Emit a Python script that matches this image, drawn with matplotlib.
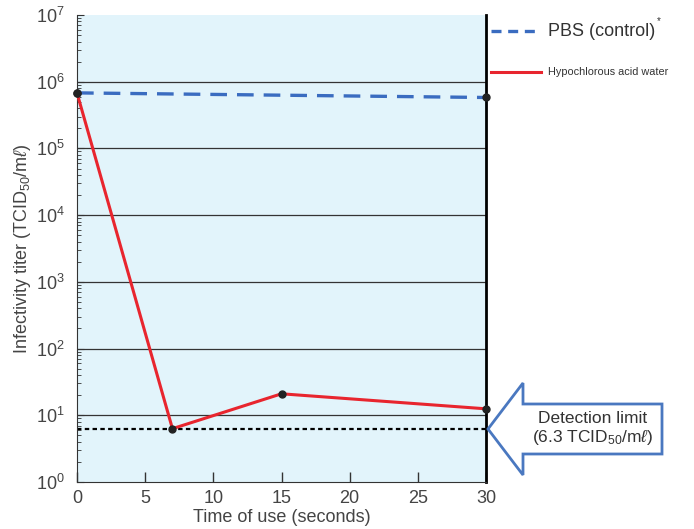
import numpy as np
import matplotlib.pyplot as plt
from matplotlib.patches import Polygon
from matplotlib.ticker import LogLocator, NullFormatter

plt.rcParams['font.family'] = ['Liberation Sans', 'DejaVu Sans']
plt.rcParams['mathtext.fontset'] = 'custom'
plt.rcParams['mathtext.rm'] = 'Liberation Sans'
plt.rcParams['mathtext.it'] = 'Liberation Sans:italic'

# data
pbs_time = [0, 30]
pbs_titer = [6.8e5, 5.8e5]
hoc_time = [0, 7, 15, 30]
hoc_titer = [6.8e5, 6.3, 21, 12.5]
detect_limit = 6.3

W, H = 694, 529
fig = plt.figure(figsize=(W / 100, H / 100), dpi=100)
ax = fig.add_axes([77 / W, 1 - 482 / H, (486 - 77) / W, (482 - 15) / H])
ax.set_facecolor('#e2f4fb')

ax.set_yscale('log')
ax.set_ylim(1, 1e7)
ax.set_xlim(0, 30)
for k in range(1, 7):
    ax.axhline(10 ** k, color='#333333', lw=0.9, zorder=1)

ax.axhline(detect_limit, color='black', ls=(0, (2, 1.5)), lw=1.6, zorder=2)
ax.plot(pbs_time, pbs_titer, color='#3a6cc0', ls=(0, (5, 3)), lw=2.4, zorder=3)
ax.plot(hoc_time, hoc_titer, color='#e8252e', lw=2.2, zorder=4)
ax.plot(pbs_time, pbs_titer, 'o', color='#222222', ms=5, zorder=5, clip_on=False)
ax.plot(hoc_time, hoc_titer, 'o', color='#222222', ms=5, zorder=5, clip_on=False)

ax.set_xticks([0, 5, 10, 15, 20, 25, 30])
ax.set_yticks([10 ** k for k in range(8)])
ax.set_yticklabels([r'$\mathregular{10^{%d}}$' % k for k in range(8)])
ax.yaxis.set_minor_locator(LogLocator(base=10, subs=np.arange(2, 10), numticks=20))
ax.yaxis.set_minor_formatter(NullFormatter())
ax.tick_params(axis='x', direction='in', length=7, width=1, labelsize=13, colors='#333333', pad=6)
ax.tick_params(axis='y', which='major', direction='in', length=5, labelsize=13, colors='#333333', pad=9)
ax.tick_params(axis='y', which='minor', direction='in', length=3, colors='#333333')
ax.tick_params(axis='y', which='both', right=False)
for lbl in ax.get_xticklabels() + ax.get_yticklabels():
    lbl.set_color('#444444')
ax.spines['top'].set_visible(False)
ax.spines['left'].set_color('#333333')
ax.spines['bottom'].set_color('#333333')
ax.spines['right'].set_linewidth(2)
ax.spines['right'].set_color('black')

ax.set_xlabel('Time of use (seconds)', fontsize=13, color='#444444', labelpad=1)
ax.set_ylabel(r'Infectivity titer (TCID$_{\mathregular{50}}$/m$\ell$)', fontsize=13, color='#444444', labelpad=2)

# legend outside on the right
fig.add_artist(plt.Line2D([491 / W, 541 / W], [1 - 31 / H] * 2, color='#3a6cc0', ls=(0, (3, 2)), lw=2.4))
fig.text(548 / W, 1 - 31 / H, 'PBS (control)', fontsize=13, color='#333333', va='center')
fig.text(657 / W, 1 - 21 / H, '*', fontsize=7, color='#333333', va='center')
fig.add_artist(plt.Line2D([491 / W, 541 / W], [1 - 72 / H] * 2, color='#e8252e', lw=2.2))
fig.text(548 / W, 1 - 72 / H, 'Hypochlorous acid water', fontsize=7.8, color='#333333', va='center')

# detection limit arrow
pts = [(488, 429), (523, 383), (523, 404), (662, 404), (662, 454), (523, 454), (523, 475)]
arrow = Polygon([(x / W, 1 - y / H) for x, y in pts], closed=True, transform=fig.transFigure,
                facecolor='white', edgecolor='#4a78c0', lw=2)
fig.add_artist(arrow)
fig.text(593 / W, 1 - 429 / H, 'Detection limit\n' + r'(6.3 TCID$_{\mathregular{50}}$/m$\ell$)',
         ha='center', va='center', fontsize=12.5, color='#333333', linespacing=1.1)

fig.savefig('out.png', dpi=100)
